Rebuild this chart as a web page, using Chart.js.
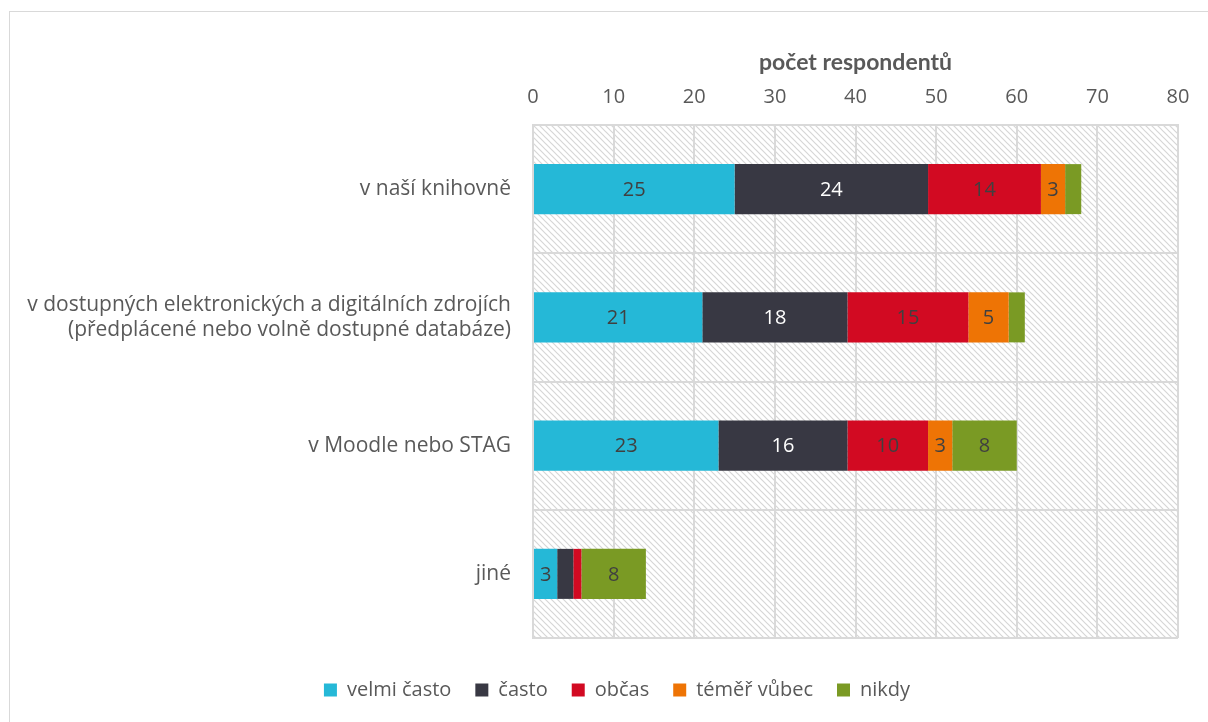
<!DOCTYPE html>
<html>
<head>
<meta charset="utf-8">
<script src="https://cdn.jsdelivr.net/npm/chart.js@4.4.1/dist/chart.umd.min.js"></script>
<style>
  html, body { margin: 0; padding: 0; background: #fff; overflow: hidden; }
  #frame { position: absolute; left: 9px; top: 11px; width: 1300px; height: 800px; border-left: 1px solid #d9d9d9; border-top: 1px solid #d9d9d9; }
  #wrap { position: absolute; left: 0; top: 0; width: 1208px; height: 722px; }
</style>
</head>
<body>
<div id="frame"></div>
<div id="wrap"><canvas id="c" width="1208" height="722"></canvas></div>
<script>
const categories = [
  'v naší knihovně',
  ['v dostupných elektronických a digitálních zdrojích', '(předplácené nebo volně dostupné databáze)'],
  'v Moodle nebo STAG',
  'jiné'
];
const seriesNames = ['velmi často', 'často', 'občas', 'téměř vůbec', 'nikdy'];
const velmiCasto = [25, 21, 23, 3];
const casto = [24, 18, 16, 2];
const obcas = [14, 15, 10, 1];
const temerVubec = [3, 5, 3, 0];
const nikdy = [2, 2, 8, 8];
const xTicks = [0, 10, 20, 30, 40, 50, 60, 70, 80];
const axisTitle = 'počet respondentů';

const colors = ['#25B8D7', '#383843', '#D20A22', '#EE7405', '#7A9A24'];
const labelColors = ['#404040', '#ffffff', '#404040', '#404040', '#404040'];
const FONT = '"Open Sans", Lato, sans-serif';

function makePattern() {
  const p = document.createElement('canvas');
  p.width = 6; p.height = 6;
  const g = p.getContext('2d');
  g.fillStyle = '#ffffff';
  g.fillRect(0, 0, 6, 6);
  g.strokeStyle = '#d6d6d6';
  g.lineWidth = 1.2;
  g.beginPath();
  g.moveTo(-1, -1); g.lineTo(7, 7);
  g.moveTo(-4, 2); g.lineTo(2, 8);
  g.moveTo(2, -4); g.lineTo(8, 2);
  g.stroke();
  return g.createPattern(p, 'repeat');
}

const hatchPlugin = {
  id: 'hatch',
  beforeDraw(chart) {
    const a = chart.chartArea;
    const ctx = chart.ctx;
    ctx.save();
    ctx.fillStyle = makePattern();
    ctx.fillRect(a.left, a.top, a.right - a.left, a.bottom - a.top);
    ctx.restore();
  }
};

const legendShift = {
  id: 'legendShift',
  afterLayout(chart) {
    const lg = chart.legend;
    if (lg) { lg.top += 18; lg.bottom += 18; lg.left += 28; lg.right += 28; }
  }
};

const valueLabels = {
  id: 'valueLabels',
  afterDatasetsDraw(chart) {
    const ctx = chart.ctx;
    ctx.save();
    ctx.font = '20px ' + FONT;
    ctx.textAlign = 'center';
    ctx.textBaseline = 'middle';
    chart.data.datasets.forEach((ds, di) => {
      const meta = chart.getDatasetMeta(di);
      meta.data.forEach((el, i) => {
        const v = ds.data[i];
        if (v >= 3) {
          ctx.fillStyle = labelColors[di];
          ctx.fillText(String(v), (el.x + el.base) / 2, el.y + 1);
        }
      });
    });
    ctx.restore();
  }
};

const seriesData = [velmiCasto, casto, obcas, temerVubec, nikdy];

new Chart(document.getElementById('c'), {
  type: 'bar',
  data: {
    labels: categories,
    datasets: seriesNames.map((n, i) => ({
      label: n,
      data: seriesData[i],
      backgroundColor: colors[i],
      borderWidth: 0,
      barPercentage: 0.39,
      categoryPercentage: 1
    }))
  },
  options: {
    indexAxis: 'y',
    responsive: false,
    animation: false,
    layout: { padding: { left: 0, right: 30, top: 0, bottom: 30 } },
    scales: {
      x: {
        position: 'top',
        stacked: true,
        min: 0, max: 80,
        afterBuildTicks(scale) { scale.ticks = xTicks.map(v => ({ value: v })); },
        afterFit(scale) { scale.height = 125; },
        ticks: { color: '#595959', font: { family: FONT, size: 20 }, padding: 16 },
        grid: { color: '#d9d9d9', lineWidth: 2, drawTicks: false },
        border: { color: '#d9d9d9', width: 2 },
        title: { display: true, text: axisTitle, color: '#595959', font: { family: 'Lato, sans-serif', size: 23, weight: 'bold' }, padding: { top: 49, bottom: 0 } }
      },
      y: {
        stacked: true,
        afterFit(scale) { scale.width = 533; },
        ticks: { color: '#595959', font: { family: FONT, size: 21, lineHeight: 1.2 }, padding: 22 },
        grid: { color: '#d9d9d9', lineWidth: 2, offset: true, drawTicks: false },
        border: { color: '#d9d9d9', width: 2 }
      }
    },
    plugins: {
      legend: {
        position: 'bottom',
        labels: { color: '#595959', font: { family: FONT, size: 20 }, boxWidth: 13, boxHeight: 13, padding: 24 }
      },
      tooltip: { enabled: false }
    }
  },
  plugins: [hatchPlugin, valueLabels, legendShift]
});
</script>
</body>
</html>
